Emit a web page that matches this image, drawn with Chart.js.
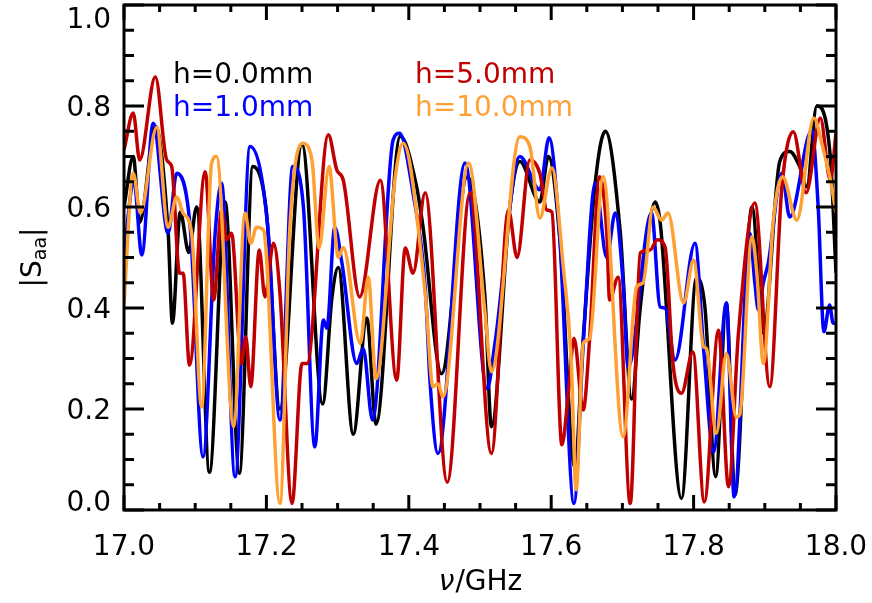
<!DOCTYPE html>
<html>
<head>
<meta charset="utf-8">
<script src="https://cdn.jsdelivr.net/npm/chart.js@4.4.1/dist/chart.umd.min.js"></script>
<style>
    html, body { margin: 0; padding: 0; background: #fff; }
    #wrap { width: 872px; height: 603px; }
</style>
</head>
<body>
<div id="wrap"><canvas id="sChart" width="872" height="603"></canvas></div>
<script>
// DATA (frequency in GHz, |S_aa|)
const h0Freq = [17.000, 17.013, 17.022, 17.044, 17.062, 17.068, 17.079, 17.091, 17.102, 17.120, 17.142, 17.162, 17.181, 17.200, 17.219, 17.250, 17.279, 17.292, 17.301, 17.322, 17.341, 17.354, 17.388, 17.411, 17.420, 17.446, 17.482, 17.507, 17.516, 17.542, 17.556, 17.584, 17.596, 17.612, 17.633, 17.645, 17.662, 17.676, 17.697, 17.713, 17.725, 17.746, 17.753, 17.783, 17.804, 17.816, 17.831, 17.846, 17.858, 17.882, 17.898, 17.921, 17.935, 17.949, 17.959, 17.973, 17.992, 18.000];
const h0Val  = [0.60, 0.70, 0.57, 0.76, 0.55, 0.37, 0.59, 0.51, 0.60, 0.075, 0.61, 0.073, 0.68, 0.59, 0.20, 0.725, 0.21, 0.42, 0.48, 0.15, 0.38, 0.17, 0.74, 0.64, 0.56, 0.27, 0.66, 0.42, 0.165, 0.60, 0.69, 0.61, 0.70, 0.54, 0.085, 0.34, 0.65, 0.75, 0.55, 0.22, 0.40, 0.61, 0.57, 0.023, 0.46, 0.40, 0.066, 0.41, 0.03, 0.60, 0.35, 0.69, 0.71, 0.68, 0.64, 0.80, 0.70, 0.47];

const h1Freq = [17.000, 17.014, 17.025, 17.041, 17.062, 17.074, 17.093, 17.111, 17.128, 17.137, 17.156, 17.177, 17.202, 17.219, 17.237, 17.252, 17.268, 17.280, 17.285, 17.296, 17.306, 17.327, 17.336, 17.349, 17.378, 17.387, 17.406, 17.423, 17.430, 17.441, 17.479, 17.510, 17.521, 17.556, 17.584, 17.597, 17.612, 17.632, 17.645, 17.662, 17.678, 17.690, 17.701, 17.708, 17.741, 17.753, 17.760, 17.774, 17.802, 17.814, 17.828, 17.846, 17.857, 17.879, 17.886, 17.891, 17.898, 17.905, 17.924, 17.935, 17.966, 17.975, 17.983, 17.991, 17.996, 18.000];
const h1Val  = [0.51, 0.65, 0.505, 0.766, 0.548, 0.667, 0.56, 0.105, 0.548, 0.647, 0.066, 0.72, 0.56, 0.178, 0.68, 0.60, 0.125, 0.376, 0.36, 0.56, 0.49, 0.29, 0.32, 0.178, 0.733, 0.746, 0.627, 0.442, 0.25, 0.112, 0.687, 0.24, 0.33, 0.70, 0.634, 0.737, 0.54, 0.013, 0.33, 0.647, 0.50, 0.588, 0.45, 0.283, 0.588, 0.402, 0.40, 0.297, 0.528, 0.32, 0.115, 0.41, 0.026, 0.548, 0.45, 0.396, 0.45, 0.49, 0.667, 0.58, 0.752, 0.60, 0.353, 0.406, 0.37, 0.37];

const h5Freq = [17.000, 17.013, 17.022, 17.044, 17.060, 17.067, 17.078, 17.083, 17.092, 17.114, 17.126, 17.137, 17.144, 17.151, 17.165, 17.171, 17.178, 17.190, 17.198, 17.210, 17.219, 17.236, 17.250, 17.257, 17.287, 17.299, 17.308, 17.331, 17.360, 17.383, 17.395, 17.406, 17.423, 17.454, 17.486, 17.516, 17.540, 17.552, 17.570, 17.584, 17.594, 17.601, 17.615, 17.624, 17.632, 17.645, 17.654, 17.668, 17.678, 17.682, 17.694, 17.711, 17.725, 17.739, 17.749, 17.760, 17.771, 17.783, 17.799, 17.815, 17.835, 17.849, 17.863, 17.886, 17.907, 17.924, 17.940, 17.958, 17.978, 17.992, 18.000];
const h5Val  = [0.713, 0.786, 0.693, 0.858, 0.693, 0.68, 0.469, 0.469, 0.287, 0.67, 0.416, 0.594, 0.535, 0.548, 0.29, 0.343, 0.244, 0.515, 0.422, 0.528, 0.43, 0.013, 0.29, 0.29, 0.743, 0.673, 0.653, 0.422, 0.653, 0.257, 0.519, 0.469, 0.628, 0.055, 0.628, 0.112, 0.594, 0.50, 0.693, 0.667, 0.594, 0.59, 0.129, 0.23, 0.34, 0.198, 0.34, 0.66, 0.55, 0.416, 0.461, 0.013, 0.509, 0.515, 0.535, 0.52, 0.29, 0.231, 0.313, 0.016, 0.356, 0.046, 0.35, 0.608, 0.244, 0.64, 0.749, 0.628, 0.776, 0.653, 0.746];

const h10Freq = [17.000, 17.013, 17.023, 17.046, 17.062, 17.074, 17.083, 17.095, 17.109, 17.123, 17.130, 17.154, 17.170, 17.178, 17.186, 17.196, 17.219, 17.233, 17.251, 17.264, 17.274, 17.288, 17.301, 17.308, 17.332, 17.343, 17.354, 17.381, 17.392, 17.423, 17.434, 17.441, 17.448, 17.484, 17.507, 17.516, 17.556, 17.570, 17.584, 17.601, 17.617, 17.628, 17.635, 17.645, 17.654, 17.673, 17.701, 17.720, 17.729, 17.743, 17.755, 17.764, 17.786, 17.800, 17.814, 17.818, 17.832, 17.846, 17.860, 17.865, 17.882, 17.889, 17.898, 17.912, 17.925, 17.945, 17.969, 17.980, 17.994, 18.000];
const h10Val  = [0.41, 0.667, 0.588, 0.758, 0.56, 0.62, 0.588, 0.548, 0.204, 0.687, 0.70, 0.165, 0.588, 0.528, 0.56, 0.554, 0.013, 0.56, 0.726, 0.693, 0.519, 0.68, 0.50, 0.52, 0.33, 0.461, 0.26, 0.66, 0.726, 0.43, 0.244, 0.25, 0.224, 0.687, 0.39, 0.274, 0.739, 0.72, 0.578, 0.677, 0.481, 0.30, 0.04, 0.33, 0.34, 0.66, 0.145, 0.442, 0.45, 0.60, 0.574, 0.588, 0.41, 0.495, 0.323, 0.32, 0.152, 0.31, 0.184, 0.19, 0.541, 0.466, 0.29, 0.574, 0.66, 0.574, 0.776, 0.726, 0.64, 0.588];

// AXES
const xMajorTicks = [17.0, 17.2, 17.4, 17.6, 17.8, 18.0];
const xTickLabels = ['17.0', '17.2', '17.4', '17.6', '17.8', '18.0'];
const yMajorTicks = [0.0, 0.2, 0.4, 0.6, 0.8, 1.0];
const yTickLabels = ['0.0', '0.2', '0.4', '0.6', '0.8', '1.0'];
const minorStep = 0.05;

const toPoints = (xs, ys) => xs.map((f, i) => ({ x: f, y: ys[i] }));

const FONT = '"DejaVu Sans", sans-serif';

// IDL-style box, inward ticks, labels, titles, legend
const idlAxes = {
    id: 'idlAxes',
    afterDatasetsDraw(chart) {
        const { ctx, chartArea: a, scales: { x, y } } = chart;
        const line = (x1, y1, x2, y2) => {
            ctx.beginPath(); ctx.moveTo(x1, y1); ctx.lineTo(x2, y2); ctx.stroke();
        };
        ctx.save();
        ctx.strokeStyle = '#000';
        ctx.lineWidth = 3;
        ctx.lineCap = 'butt';

        // x ticks (bottom + top)
        for (let v = 17.0; v <= 18.0001; v += minorStep) {
            const px = x.getPixelForValue(v);
            const major = xMajorTicks.some(m => Math.abs(m - v) < 1e-6);
            const len = major ? 15 : 7;
            line(px, a.bottom, px, a.bottom - len);
            line(px, a.top, px, a.top + len);
        }
        // y ticks (left + right)
        for (let v = 0.0; v <= 1.0001; v += minorStep) {
            const py = y.getPixelForValue(v);
            const major = yMajorTicks.some(m => Math.abs(m - v) < 1e-6);
            const len = major ? 20 : 10;
            line(a.left, py, a.left + len, py);
            line(a.right, py, a.right - len, py);
        }
        ctx.strokeRect(a.left, a.top, a.right - a.left, a.bottom - a.top);

        // tick labels
        ctx.fillStyle = '#000';
        ctx.font = '28px ' + FONT;
        ctx.textBaseline = 'alphabetic';
        ctx.textAlign = 'center';
        xTickLabels.forEach((t, i) => ctx.fillText(t, x.getPixelForValue(xMajorTicks[i]), a.bottom + 45));
        ctx.textAlign = 'right';
        yTickLabels.forEach((t, i) => {
            const py = Math.min(Math.max(y.getPixelForValue(yMajorTicks[i]), 17.5), 501);
            ctx.fillText(t, a.left - 13, py + 10);
        });

        // x title: nu/GHz
        ctx.textAlign = 'left';
        const nu = 'ν', rest = '/GHz';
        ctx.font = 'italic 28px ' + FONT;
        const wNu = ctx.measureText(nu).width;
        ctx.font = '28px ' + FONT;
        const wRest = ctx.measureText(rest).width;
        const cx = (a.left + a.right) / 2;
        let sx = cx - (wNu + wRest) / 2;
        ctx.font = 'italic 28px ' + FONT;
        ctx.fillText(nu, sx, 590);
        ctx.font = '28px ' + FONT;
        ctx.fillText(rest, sx + wNu + 1, 590);

        // y title: |S_aa|
        ctx.save();
        ctx.translate(41, (a.top + a.bottom) / 2);
        ctx.rotate(-Math.PI / 2);
        ctx.font = '28px ' + FONT;
        const wBar = ctx.measureText('|').width;
        const wS = ctx.measureText('S').width;
        ctx.font = '19px ' + FONT;
        const wSub = ctx.measureText('aa').width;
        let tx = -(2 * wBar + wS + wSub) / 2;
        ctx.font = '28px ' + FONT;
        ctx.fillText('|', tx, 0); tx += wBar;
        ctx.fillText('S', tx, 0); tx += wS;
        ctx.font = '19px ' + FONT;
        ctx.fillText('aa', tx, 5); tx += wSub;
        ctx.font = '28px ' + FONT;
        ctx.fillText('|', tx, 0);
        ctx.restore();

        // legend text
        ctx.font = '28px ' + FONT;
        ctx.textAlign = 'left';
        const legendPos = [[173, 83], [173, 116], [415, 83], [415, 116]];
        chart.data.datasets.forEach((ds, i) => {
            ctx.fillStyle = ds.borderColor;
            ctx.fillText(ds.label, legendPos[i][0], legendPos[i][1]);
        });
        ctx.restore();
    }
};

const ctx = document.getElementById('sChart').getContext('2d');

const lineStyle = { borderWidth: 3.5, pointRadius: 0, showLine: true, fill: false, cubicInterpolationMode: 'monotone' };

const sChart = new Chart(ctx, {
    type: 'scatter',
    data: {
        datasets: [
            { label: 'h=0.0mm', data: toPoints(h0Freq, h0Val), borderColor: '#000000', order: 4, ...lineStyle },
            { label: 'h=1.0mm', data: toPoints(h1Freq, h1Val), borderColor: '#0000ff', order: 3, ...lineStyle },
            { label: 'h=5.0mm', data: toPoints(h5Freq, h5Val), borderColor: '#c00000', order: 2, ...lineStyle },
            { label: 'h=10.0mm', data: toPoints(h10Freq, h10Val), borderColor: '#ffa033', order: 1, ...lineStyle }
        ]
    },
    options: {
        responsive: false,
        animation: false,
        layout: { padding: { left: 124, top: 5, right: 36, bottom: 93 } },
        plugins: {
            legend: { display: false },
            tooltip: { enabled: false }
        },
        scales: {
            x: { type: 'linear', min: 17, max: 18, display: false },
            y: { type: 'linear', min: 0, max: 1, display: false }
        }
    },
    plugins: [idlAxes]
});
</script>
</body>
</html>
